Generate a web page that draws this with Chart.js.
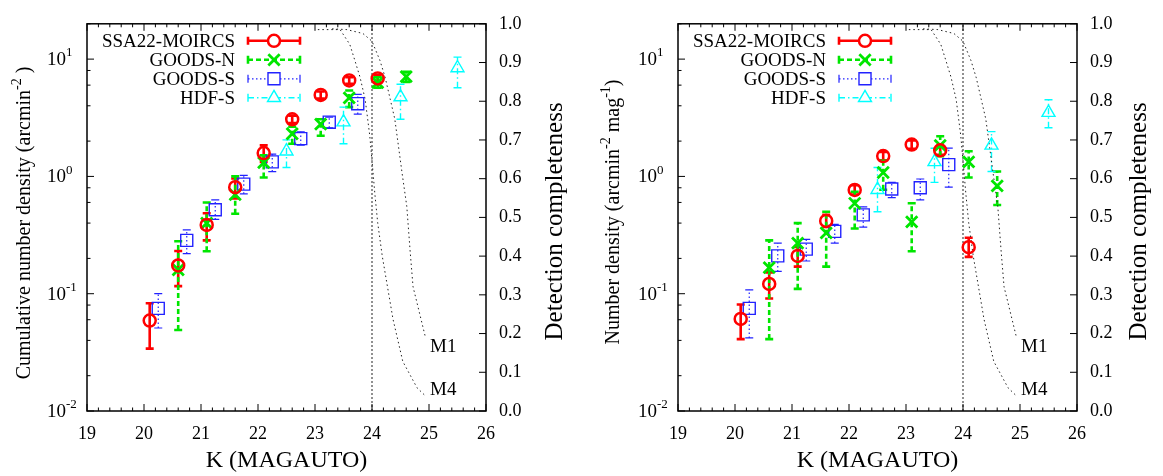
<!DOCTYPE html>
<html>
<head>
<meta charset="utf-8">
<script src="https://cdn.jsdelivr.net/npm/chart.js@4.4.1/dist/chart.umd.min.js"></script>
<style>
html, body { margin: 0; padding: 0; background: #fff; }
#wrap { position: relative; width: 1163px; height: 476px; }
canvas { position: absolute; top: 0; }
</style>
</head>
<body>
<div id="wrap">
  <canvas id="cum" width="581" height="476" style="left:0px"></canvas>
  <canvas id="dif" width="582" height="476" style="left:581px"></canvas>
</div>
<script>
const SERIF = '"Liberation Serif", "Times New Roman", serif';
Chart.defaults.font.family = SERIF;
Chart.defaults.color = '#000';

// magnitude bins of each survey
const kSSA22 = [20.1, 20.6, 21.1, 21.6, 22.1, 22.6, 23.1, 23.6, 24.1];
const kGoodsN = [20.6, 21.1, 21.6, 22.1, 22.6, 23.1, 23.6, 24.1, 24.6];
const kGoodsS = [20.25, 20.75, 21.25, 21.75, 22.25, 22.75, 23.25, 23.75];
const kHdfS = [22.5, 23.5, 24.5, 25.5];

// cumulative number density (arcmin^-2), with lower / upper error ends
const cumSSA22 = [0.059, 0.174, 0.386, 0.81, 1.58, 3.07, 4.95, 6.58, 6.84];
const cumSSA22Lo = [0.034, 0.116, 0.285, 0.65, 1.33, 2.85, 4.6, 6.15, 6.35];
const cumSSA22Hi = [0.083, 0.231, 0.485, 0.96, 1.84, 3.3, 5.3, 7.0, 7.3];
const cumGoodsN = [0.16, 0.40, 0.70, 1.31, 2.31, 2.79, 4.67, 6.3, 7.1];
const cumGoodsNLo = [0.049, 0.23, 0.48, 0.98, 1.9, 2.22, 3.9, 5.7, 6.4];
const cumGoodsNHi = [0.28, 0.60, 1.0, 1.51, 2.65, 3.07, 5.4, 7.0, 7.8];
const cumGoodsS = [0.075, 0.285, 0.52, 0.86, 1.33, 2.1, 2.9, 4.17];
const cumGoodsSLo = [0.051, 0.22, 0.43, 0.71, 1.1, 1.85, 2.6, 3.4];
const cumGoodsSHi = [0.10, 0.35, 0.63, 1.02, 1.55, 2.4, 3.2, 5.0];
const cumHdfS = [1.64, 2.9, 4.75, 8.4];
const cumHdfSLo = [1.19, 1.9, 3.07, 5.7];
const cumHdfSHi = [2.05, 3.9, 6.1, 10.4];

// differential number density (arcmin^-2 mag^-1)
const difSSA22 = [0.061, 0.121, 0.21, 0.417, 0.766, 1.49, 1.87, 1.67, 0.249];
const difSSA22Lo = [0.041, 0.091, 0.17, 0.37, 0.70, 1.37, 1.72, 1.53, 0.206];
const difSSA22Hi = [0.081, 0.152, 0.25, 0.47, 0.84, 1.62, 2.03, 1.82, 0.30];
const difGoodsN = [0.167, 0.27, 0.33, 0.59, 1.08, 0.41, 1.84, 1.33, 0.83];
const difGoodsNLo = [0.041, 0.11, 0.17, 0.36, 0.77, 0.23, 1.49, 0.98, 0.57];
const difGoodsNHi = [0.285, 0.40, 0.50, 0.74, 1.36, 0.59, 2.2, 1.64, 1.1];
const difGoodsS = [0.075, 0.21, 0.24, 0.34, 0.47, 0.78, 0.80, 1.26];
const difGoodsSLo = [0.042, 0.155, 0.19, 0.27, 0.37, 0.66, 0.63, 0.81];
const difGoodsSHi = [0.108, 0.27, 0.29, 0.39, 0.55, 0.89, 0.95, 1.74];
const difHdfS = [0.77, 1.33, 1.84, 3.5];
const difHdfSLo = [0.50, 0.89, 1.1, 2.6];
const difHdfSHi = [1.19, 1.74, 2.41, 4.5];

// detection completeness curves (right axis)
const kM1 = [23.3, 23.56, 23.84, 24.0, 24.14, 24.23, 24.32, 24.4, 24.53, 24.61, 24.67, 24.72, 24.93];
const cM1 = [0.987, 0.985, 0.975, 0.955, 0.905, 0.862, 0.805, 0.754, 0.612, 0.529, 0.411, 0.321, 0.195];
const kM4 = [23.05, 23.44, 23.61, 23.70, 23.79, 23.88, 23.96, 24.0, 24.05, 24.1, 24.18, 24.37, 24.54, 24.79, 24.93];
const cM4 = [0.985, 0.985, 0.947, 0.905, 0.862, 0.805, 0.712, 0.647, 0.561, 0.486, 0.40, 0.236, 0.128, 0.06, 0.04];
const kCut = [24, 24];
const cCut = [0, 1];

// axis ticks
const xTicks = [19, 20, 21, 22, 23, 24, 25, 26];
const logTicks = [0.01, 0.1, 1, 10];
const logTickExp = ['-2', '-1', '0', '1'];
const logMinor = [2, 4, 6, 8];

const styles = {
  ssa22:  { label: 'SSA22-MOIRCS', color: '#ff0000', lw: 2.6, dash: [], point: 'circle', radius: 6, pw: 2.5 },
  goodsN: { label: 'GOODS-N', color: '#00e600', lw: 2.6, dash: [5, 3], point: 'crossRot', radius: 8, pw: 2.8 },
  goodsS: { label: 'GOODS-S', color: '#2222ff', lw: 1.2, dash: [1.5, 2.5], point: 'rect', radius: 8.5, pw: 1.4 },
  hdfS:   { label: 'HDF-S', color: '#00ffff', lw: 1.4, dash: [6, 3, 1.5, 3], point: 'triangle', radius: 7.5, pw: 1.4 }
};
const CAP = 4;

function series(st, k, v, lo, hi) {
  return {
    label: st.label,
    data: k.map((x, i) => ({ x: x, y: v[i] })),
    errLo: lo, errHi: hi, st: st,
    showLine: false,
    pointStyle: st.point,
    pointRadius: st.radius,
    pointHoverRadius: st.radius,
    pointBorderWidth: st.pw,
    pointBorderColor: st.color,
    borderColor: st.color,
    pointBackgroundColor: 'rgba(0,0,0,0)',
    backgroundColor: 'rgba(0,0,0,0)',
    yAxisID: 'y'
  };
}

function curve(k, c, dash) {
  return {
    data: k.map((x, i) => ({ x: x, y: c[i] })),
    showLine: true,
    borderColor: '#222',
    borderWidth: 1,
    borderDash: dash,
    pointRadius: 0,
    yAxisID: 'y1'
  };
}

const errorBars = {
  id: 'errorBars',
  beforeDatasetsDraw(chart) {
    const ctx = chart.ctx, xs = chart.scales.x, ys = chart.scales.y, a = chart.chartArea;
    ctx.save();
    ctx.beginPath();
    ctx.rect(a.left, a.top, a.right - a.left, a.bottom - a.top);
    ctx.clip();
    chart.data.datasets.forEach(ds => {
      if (!ds.errLo) return;
      ctx.strokeStyle = ds.st.color;
      ctx.lineWidth = ds.st.lw;
      ds.data.forEach((p, i) => {
        const x = xs.getPixelForValue(p.x);
        const y0 = ys.getPixelForValue(ds.errLo[i]);
        const y1 = ys.getPixelForValue(ds.errHi[i]);
        ctx.setLineDash(ds.st.dash);
        ctx.beginPath(); ctx.moveTo(x, y0); ctx.lineTo(x, y1); ctx.stroke();
        ctx.setLineDash([]);
        ctx.beginPath();
        ctx.moveTo(x - CAP, y0); ctx.lineTo(x + CAP, y0);
        ctx.moveTo(x - CAP, y1); ctx.lineTo(x + CAP, y1);
        ctx.stroke();
      });
    });
    ctx.restore();
  }
};

function drawRich(ctx, parts, size) {
  // parts: [text, isSuperscript]; draws from current origin
  let w = 0;
  parts.forEach(([t, sup]) => {
    ctx.font = (sup ? Math.round(size * 0.68) : size) + 'px ' + SERIF;
    ctx.fillText(t, w, sup ? -size * 0.38 : 0);
    w += ctx.measureText(t).width;
  });
  return w;
}
function richWidth(ctx, parts, size) {
  let w = 0;
  parts.forEach(([t, sup]) => {
    ctx.font = (sup ? Math.round(size * 0.68) : size) + 'px ' + SERIF;
    w += ctx.measureText(t).width;
  });
  return w;
}

function frame(cfg) {
  return {
    id: 'frame',
    afterDraw(chart) {
      const ctx = chart.ctx, a = chart.chartArea;
      const xs = chart.scales.x, ys = chart.scales.y, cs = chart.scales.y1;
      ctx.save();
      ctx.strokeStyle = '#000';
      ctx.fillStyle = '#000';
      ctx.setLineDash([]);

      // inward ticks
      ctx.lineWidth = 1;
      ctx.beginPath();
      for (let i = 0; i <= 35; i++) {
        const x = xs.getPixelForValue(19 + i * 0.2);
        const len = i % 5 === 0 ? 7 : 3.5;
        ctx.moveTo(x, a.bottom); ctx.lineTo(x, a.bottom - len);
        ctx.moveTo(x, a.top); ctx.lineTo(x, a.top + len);
      }
      logTicks.forEach(d => {
        const y = ys.getPixelForValue(d);
        ctx.moveTo(a.left, y); ctx.lineTo(a.left + 7, y);
        logMinor.forEach(m => {
          if (m * d > ys.max) return;
          const ym = ys.getPixelForValue(m * d);
          ctx.moveTo(a.left, ym); ctx.lineTo(a.left + 3.5, ym);
        });
      });
      for (let i = 0; i <= 10; i++) {
        const y = cs.getPixelForValue(i / 10);
        ctx.moveTo(a.right, y); ctx.lineTo(a.right - 7, y);
      }
      ctx.stroke();

      // border
      ctx.lineWidth = 1.5;
      ctx.strokeRect(a.left, a.top, a.right - a.left, a.bottom - a.top);

      // log tick labels with exponents
      ctx.textAlign = 'left';
      ctx.textBaseline = 'middle';
      logTicks.forEach((d, i) => {
        const y = ys.getPixelForValue(d);
        ctx.save();
        ctx.translate(a.left - 40, y + 1);
        drawRich(ctx, [['10', false], [logTickExp[i], true]], 19);
        ctx.restore();
      });

      // x title
      ctx.font = '24px ' + SERIF;
      ctx.textAlign = 'center';
      ctx.fillText('K (MAGAUTO)', (a.left + a.right) / 2, 461);

      // left y title
      ctx.textAlign = 'left';
      ctx.save();
      ctx.translate(cfg.yTitleX, cfg.yTitleY);
      ctx.rotate(-Math.PI / 2);
      const tw = richWidth(ctx, cfg.yTitle, 20);
      ctx.translate(-tw / 2, 0);
      drawRich(ctx, cfg.yTitle, 20);
      ctx.restore();

      // right y title
      ctx.save();
      ctx.translate(cfg.rTitleX, (a.top + a.bottom) / 2 + 4);
      ctx.rotate(-Math.PI / 2);
      ctx.font = '25px ' + SERIF;
      ctx.textAlign = 'center';
      ctx.fillText('Detection completeness', 0, 0);
      ctx.restore();

      // curve labels
      ctx.font = '19px ' + SERIF;
      ctx.textAlign = 'left';
      ctx.fillText('M1', xs.getPixelForValue(kM1[kM1.length - 1]) + 5, cs.getPixelForValue(cM1[cM1.length - 1]) + 12);
      ctx.fillText('M4', xs.getPixelForValue(kM4[kM4.length - 1]) + 5, cs.getPixelForValue(cM4[cM4.length - 1]) - 5);

      // legend
      [styles.ssa22, styles.goodsN, styles.goodsS, styles.hdfS].forEach((st, i) => {
        const y = a.top + 17 + i * 19;
        ctx.font = '19px ' + SERIF;
        ctx.textAlign = 'right';
        ctx.fillStyle = '#000';
        ctx.fillText(st.label, a.left + 148, y + 1);
        const x0 = a.left + 161, x1 = a.left + 213;
        ctx.strokeStyle = st.color;
        ctx.lineWidth = st.lw;
        ctx.setLineDash(st.dash);
        ctx.beginPath(); ctx.moveTo(x0, y); ctx.lineTo(x1, y); ctx.stroke();
        ctx.setLineDash([]);
        ctx.beginPath();
        ctx.moveTo(x0, y - CAP); ctx.lineTo(x0, y + CAP);
        ctx.moveTo(x1, y - CAP); ctx.lineTo(x1, y + CAP);
        ctx.stroke();
        ctx.fillStyle = '#fff';
        ctx.lineWidth = st.pw;
        Chart.helpers.drawPoint(ctx, { pointStyle: st.point, radius: st.radius, rotation: 0, borderWidth: st.pw }, (x0 + x1) / 2, y);
      });
      ctx.restore();
    }
  };
}

function makeChart(id, cfg, sets) {
  return new Chart(document.getElementById(id), {
    type: 'scatter',
    data: {
      datasets: [
        ...sets,
        curve(kM1, cM1, [1.5, 3]),
        curve(kM4, cM4, [1.5, 3]),
        curve(kCut, cCut, [2, 2])
      ]
    },
    options: {
      responsive: false,
      animation: false,
      devicePixelRatio: 1,
      layout: { padding: { top: 12, left: 0, right: 0, bottom: 0 } },
      plugins: { legend: { display: false }, tooltip: { enabled: false } },
      scales: {
        x: {
          type: 'linear', min: 19, max: 26,
          grid: { display: false, drawTicks: false },
          border: { display: false },
          afterBuildTicks: s => { s.ticks = xTicks.map(v => ({ value: v })); },
          ticks: { padding: 12, font: { size: 18 }, color: '#000' },
          afterFit: s => { s.height = 65; }
        },
        y: {
          type: 'logarithmic', position: 'left', min: 0.01, max: 20,
          grid: { display: false, drawTicks: false },
          border: { display: false },
          ticks: { display: false },
          afterFit: s => { s.width = cfg.leftW; }
        },
        y1: {
          type: 'linear', position: 'right', min: 0, max: 1,
          grid: { display: false, drawTicks: false },
          border: { display: false },
          ticks: { stepSize: 0.1, padding: 13, font: { size: 18 }, color: '#000', callback: v => v.toFixed(1) },
          afterFit: s => { s.width = cfg.rightW; }
        }
      }
    },
    plugins: [errorBars, frame(cfg)]
  });
}

makeChart('cum', {
  leftW: 87, rightW: 95, yTitleX: 25, yTitleY: 223, rTitleX: 555,
  yTitle: [['Cumulative number density (arcmin', false], ['-2', true], [' )', false]]
}, [
  series(styles.ssa22, kSSA22, cumSSA22, cumSSA22Lo, cumSSA22Hi),
  series(styles.goodsN, kGoodsN, cumGoodsN, cumGoodsNLo, cumGoodsNHi),
  series(styles.goodsS, kGoodsS, cumGoodsS, cumGoodsSLo, cumGoodsSHi),
  series(styles.hdfS, kHdfS, cumHdfS, cumHdfSLo, cumHdfSHi)
]);

makeChart('dif', {
  leftW: 97, rightW: 86, yTitleX: 33, yTitleY: 212, rTitleX: 558,
  yTitle: [['Number density (arcmin', false], ['-2', true], [' mag', false], ['-1', true], [')', false]]
}, [
  series(styles.ssa22, kSSA22, difSSA22, difSSA22Lo, difSSA22Hi),
  series(styles.goodsN, kGoodsN, difGoodsN, difGoodsNLo, difGoodsNHi),
  series(styles.goodsS, kGoodsS, difGoodsS, difGoodsSLo, difGoodsSHi),
  series(styles.hdfS, kHdfS, difHdfS, difHdfSLo, difHdfSHi)
]);
</script>
</body>
</html>
